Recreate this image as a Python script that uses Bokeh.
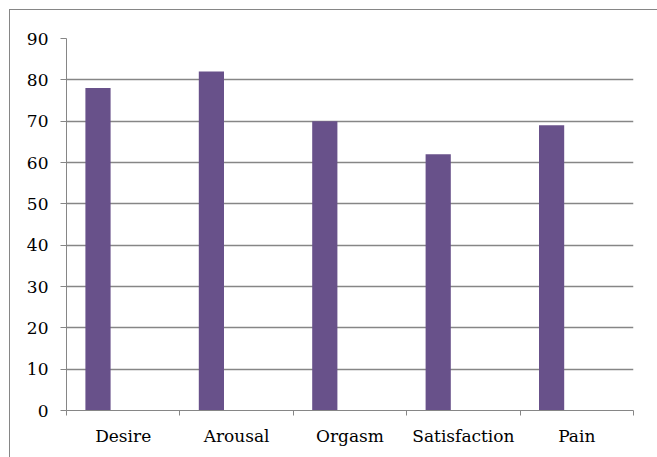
import numpy as np
from bokeh.plotting import figure
from bokeh.models import FixedTicker, Range1d, ColumnDataSource
from bokeh.embed import file_html
from bokeh.resources import INLINE

categories = ["Desire", "Arousal", "Orgasm", "Satisfaction", "Pain"]
values = [78, 82, 70, 62, 69]
y_ticks = [0, 10, 20, 30, 40, 50, 60, 70, 80, 90]

GRAY = "#868686"
BAR = "#68518A"
FONT = "DejaVu Serif"

n = len(categories)
# Excel clustered layout: 3 series slots, gap 150%, only first slot filled
slot = 1.0 / (3 + 1.5)
centers = np.arange(n) + 0.5
xs = centers - slot

src = ColumnDataSource(dict(x=xs, top=values, cat=categories))

OFF = 9
p = figure(width=657 - OFF, height=457 - OFF, output_backend="svg", toolbar_location=None,
           x_range=Range1d(0, n), y_range=Range1d(0, 90),
           min_border_left=66 - OFF - 1, min_border_right=25, min_border_top=38 - OFF - 1,
           min_border_bottom=48)
p.margin = (OFF, 0, 0, OFF)
p.styles = {"border-left": "1px solid #868686", "border-top": "1px solid #868686"}
p.outline_line_color = None

p.vbar(x="x", top="top", bottom=0, width=slot, source=src, fill_color=BAR, line_color=None)

xa = p.xaxis[0]
xa.ticker = FixedTicker(ticks=list(centers), minor_ticks=list(range(n + 1)))
xa.major_label_overrides = {float(c): categories[i] for i, c in enumerate(centers)}
xa.major_tick_out = 0
xa.major_tick_in = 0
xa.minor_tick_out = 5
xa.minor_tick_in = 0
xa.minor_tick_line_color = GRAY
xa.axis_line_color = GRAY
xa.major_label_standoff = 10
xa.major_label_text_font = FONT
xa.major_label_text_font_size = "17px"
xa.major_label_text_color = "black"

ya = p.yaxis[0]
ya.ticker = FixedTicker(ticks=y_ticks)
ya.major_tick_out = 6
ya.major_tick_in = 0
ya.minor_tick_line_color = None
ya.major_tick_line_color = GRAY
ya.axis_line_color = GRAY
ya.major_label_standoff = 12
ya.major_label_text_font = FONT
ya.major_label_text_font_size = "17px"
ya.major_label_text_color = "black"

p.xgrid.grid_line_color = None
p.ygrid.ticker = FixedTicker(ticks=y_ticks[1:])
p.ygrid.grid_line_color = GRAY
p.ygrid.grid_line_width = 1.5

open("out.html", "w").write(file_html(p, INLINE))
